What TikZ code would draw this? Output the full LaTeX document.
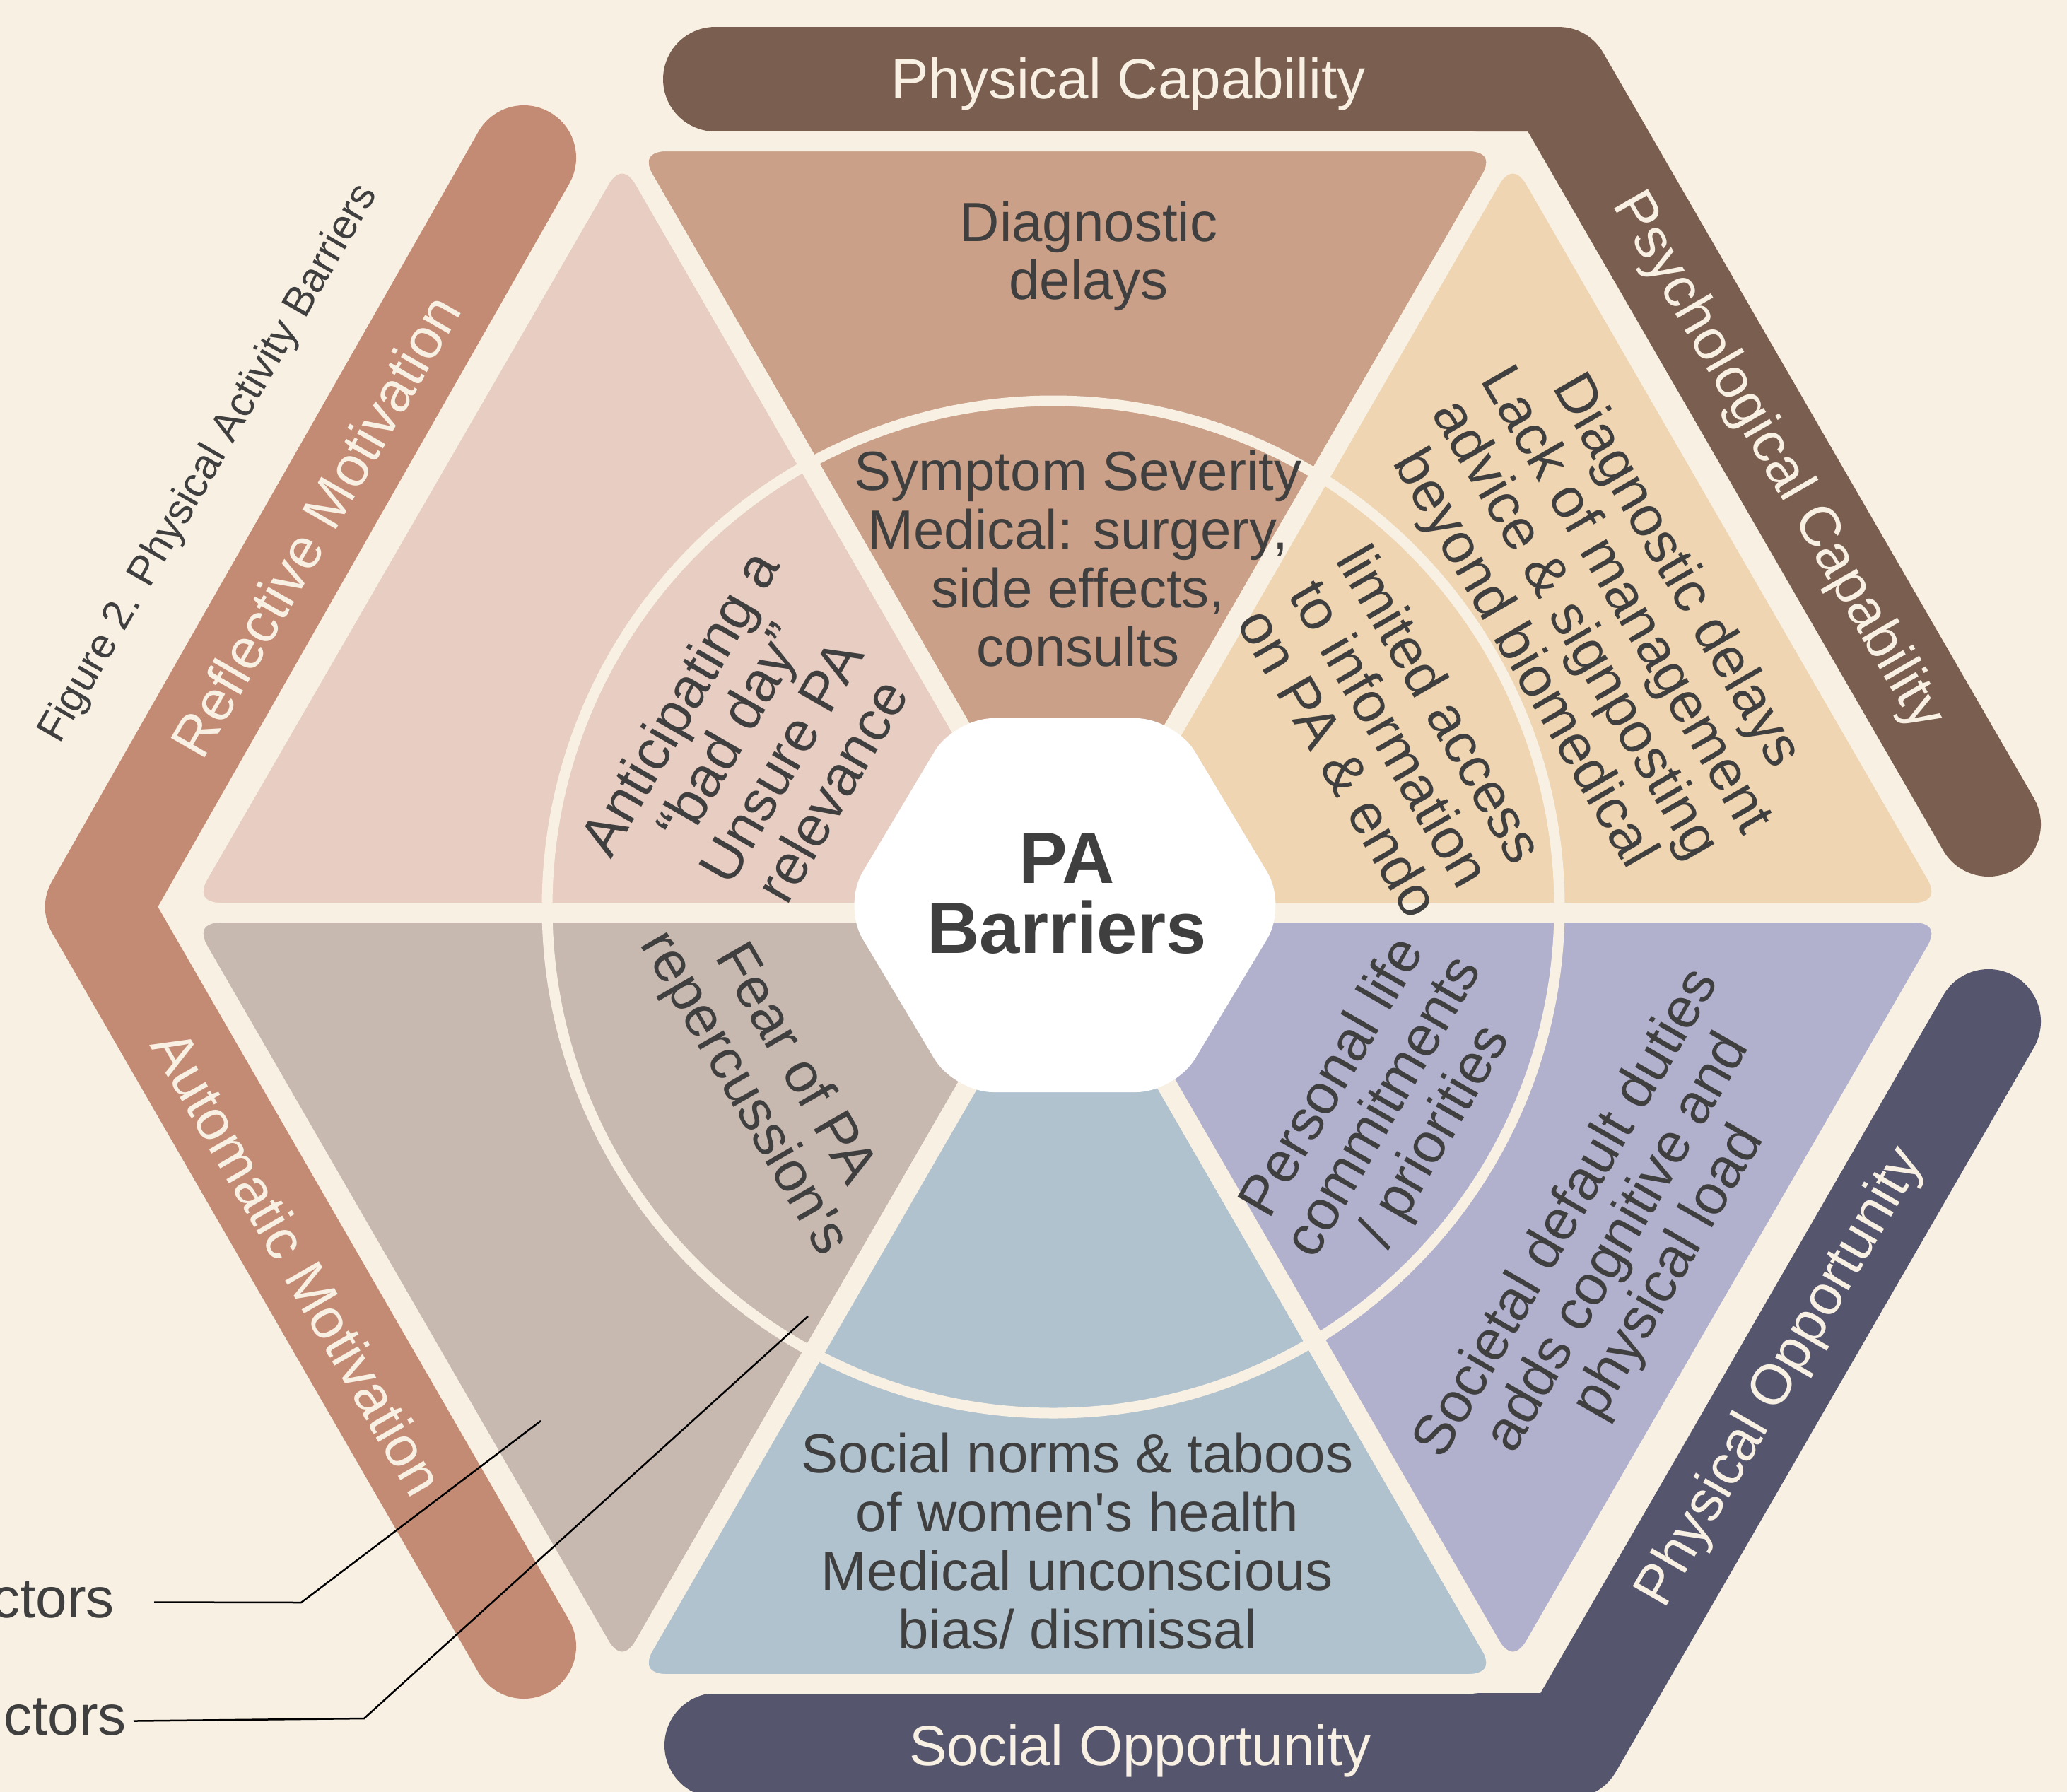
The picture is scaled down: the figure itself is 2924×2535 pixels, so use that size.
\documentclass[tikz,border=0pt]{standalone}
\usepackage{fontspec}
\setmainfont{Liberation Sans}
\usepackage{tikz}
\usetikzlibrary{positioning}
\definecolor{paper}{HTML}{F8F0E3}
\definecolor{ink}{HTML}{3F3F3F}
\definecolor{capbrown}{HTML}{7A5E4F}
\definecolor{clay}{HTML}{C48B74}
\definecolor{oppnavy}{HTML}{55566D}
\definecolor{wtop}{HTML}{CAA088}
\definecolor{wupright}{HTML}{EFD5B1}
\definecolor{wupleft}{HTML}{E7CDC2}
\definecolor{wlowleft}{HTML}{C7B8B0}
\definecolor{wbottom}{HTML}{B1C2CF}
\definecolor{wlowright}{HTML}{B1B1CE}

\tikzset{
  band/.style={draw=#1, line width=148pt, line cap=round, line join=round},
  wedge/.style={fill=#1, draw=paper, line width=28pt, rounded corners=62pt},
  bandlabel/.style={text=paper, inner sep=0pt, font=\fontsize{80}{96}\selectfont},
  wedgetext/.style={text=ink, align=center, inner sep=0pt, font=\fontsize{80}{83}\selectfont},
  leader/.style={draw=black, line width=2.5pt},
}

\begin{document}
\begin{tikzpicture}[x=1pt, y=-1pt]
  \useasboundingbox (0,0) rectangle (2924,2535);
  \fill[paper] (0,0) rectangle (2924,2535);

  % outer bands
  \draw[band=capbrown] (1012,112) -- (2204,112) -- (2813,1166);
  \draw[band=oppnavy] (1014,2469) -- (2222,2469) -- (2813,1445);
  \draw[band=clay] (741,223) -- (138,1283) -- (741,2329);

  % hexagon corners
  \coordinate (hub) at (1510,1291);
  \coordinate (v0) at (2770,1291);
  \coordinate (v1) at (2140,200);
  \coordinate (v2) at (880,200);
  \coordinate (v3) at (250,1291);
  \coordinate (v4) at (880,2382);
  \coordinate (v5) at (2140,2382);

  \path[wedge=wtop] (hub) -- (v1) -- (v2) -- cycle;
  \path[wedge=wupleft] (hub) -- (v2) -- (v3) -- cycle;
  \path[wedge=wlowleft] (hub) -- (v3) -- (v4) -- cycle;
  \path[wedge=wbottom] (hub) -- (v4) -- (v5) -- cycle;
  \path[wedge=wlowright] (hub) -- (v5) -- (v0) -- cycle;
  \path[wedge=wupright] (hub) -- (v0) -- (v1) -- cycle;

  \draw[paper, line width=15pt] (1490,1283) circle (716);

  \fill[white, rounded corners=55pt] (1192,1281) -- (1350,1016) -- (1662,1016)
    -- (1821,1281) -- (1662,1545) -- (1350,1545) -- cycle;
  \node[text=ink, align=center, inner sep=0pt, font=\bfseries\fontsize{103}{99}\selectfont]
    (core) at (1509,1264) {PA\\Barriers};

  % band labels
  \node[bandlabel] (physcap) at (1596,119) {Physical Capability};
  \node[bandlabel, rotate=-60] (psychcap) at (2514,653) {Psychological Capability};
  \node[bandlabel, rotate=60] (physopp) at (2520,1949) {Physical Opportunity};
  \node[bandlabel] (socopp) at (1613,2477) {Social Opportunity};
  \node[bandlabel, rotate=60] (reflmot) at (446,744) {Reflective Motivation};
  \node[bandlabel, rotate=-60] (automot) at (422,1786) {Automatic Motivation};

  % wedge texts
  \node[wedgetext, font=\fontsize{78}{82}\selectfont] (delays) at (1540,362) {Diagnostic\\delays};
  \node[wedgetext, font=\fontsize{78}{83}\selectfont] (severity) at (1525,790)
    {Symptom Severity\\Medical: surgery,\\side effects,\\consults};
  \node[wedgetext, font=\fontsize{78}{83}\selectfont] (norms) at (1524,2180)
    {Social norms \& taboos\\of women\textquotesingle s health\\Medical unconscious\\bias/ dismissal};
  \node[wedgetext, rotate=60] (badday) at (1068,1056) {Anticipating a\\“bad day”\\Unsure PA\\relevance};
  \node[wedgetext, rotate=-60] (fear) at (1087,1527) {Fear of PA\\repercussion\textquotesingle s};
  \node[wedgetext, rotate=-60] (signpost) at (2262,871)
    {Diagnostic delays\\Lack of management\\advice \& signposting\\beyond biomedical};
  \node[wedgetext, rotate=-60] (access) at (1967,1037) {limited access\\to information\\on PA \& endo};
  \node[wedgetext, rotate=60] (commit) at (1960,1567) {Personal life\\commitments\\/ priorities};
  \node[wedgetext, rotate=60] (duties) at (2290,1759)
    {Societal default duties\\adds cognitive and\\physical load};

  \node[text=ink, rotate=60, inner sep=0pt, font=\fontsize{59}{70}\selectfont]
    (caption) at (296,656) {Figure 2. Physical Activity Barriers};

  % leader lines
  \node[anchor=base east, text=ink, inner sep=0pt, font=\fontsize{80}{90}\selectfont] (tagA) at (162,2288) {ctors};
  \node[anchor=base east, text=ink, inner sep=0pt, font=\fontsize{80}{90}\selectfont] (tagB) at (179,2454) {ctors};
  \coordinate (kneeA) at (426,2267);
  \coordinate (tipA) at (765,2010);
  \coordinate (kneeB) at (515,2431);
  \coordinate (tipB) at (1143,1862);
  \draw[leader] ([xshift=56pt, yshift=-4pt]tagA.east) -- (kneeA) -- (tipA);
  \draw[leader] ([xshift=10pt, yshift=-6pt]tagB.east) -- (kneeB) -- (tipB);
\end{tikzpicture}
\end{document}
